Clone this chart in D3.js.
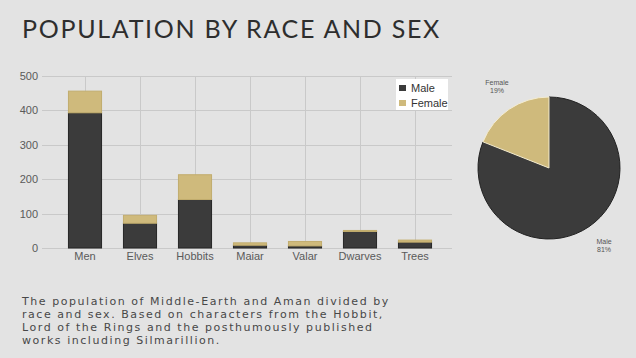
<!DOCTYPE html>
<html>
<head>
<meta charset="utf-8">
<script src="https://cdn.jsdelivr.net/npm/d3@7"></script>
<style>
  html, body { margin: 0; padding: 0; background: #e3e3e3; }
  svg { display: block; }
</style>
</head>
<body>
<div id="chart"></div>
<script>
// data
const races = ['Men', 'Elves', 'Hobbits', 'Maiar', 'Valar', 'Dwarves', 'Trees'];
const male = [393, 72, 141, 8, 6, 48, 17];
const female = [63, 23, 72, 7, 13, 3, 6];
const yTicks = [0, 100, 200, 300, 400, 500];
const pieLabels = ['Male', 'Female'];
const piePercent = [81, 19];

const W = 636, H = 358;
const colors = { Male: '#3b3b3b', Female: '#cfba7c' };

const svg = d3.select('#chart').append('svg')
    .attr('width', W)
    .attr('height', H);

svg.append('rect').attr('width', W).attr('height', H).attr('fill', '#e3e3e3');

// title
svg.append('text')
    .attr('x', 22).attr('y', 38)
    .attr('font-family', 'Lato, sans-serif')
    .attr('font-size', 25)
    .attr('letter-spacing', 1.7)
    .attr('fill', '#2e2e2e')
    .text('POPULATION BY RACE AND SEX');

// bar chart
let x = d3.scaleBand()
    .domain(races)
    .range([57.5, 442.5])
    .paddingInner(0.38)
    .paddingOuter(0.19);

let y = d3.scaleLinear()
    .domain([0, 500])
    .range([248, 76]);

let grid = svg.append('g').attr('stroke', '#c9c9c9').attr('stroke-width', 1);
grid.selectAll('line.h').data(yTicks).enter().append('line')
    .attr('x1', 42).attr('x2', 452)
    .attr('y1', d => Math.round(y(d)) + 0.5)
    .attr('y2', d => Math.round(y(d)) + 0.5);
grid.selectAll('line.v').data(races).enter().append('line')
    .attr('x1', d => Math.round(x(d) + x.bandwidth() / 2) + 0.5)
    .attr('x2', d => Math.round(x(d) + x.bandwidth() / 2) + 0.5)
    .attr('y1', 76).attr('y2', 248);

let yAxis = g => g
    .attr('transform', 'translate(42,0)')
    .call(d3.axisLeft(y).tickValues(yTicks).tickSize(0).tickPadding(4))
    .call(g => g.select('.domain').remove())
    .call(g => g.selectAll('text')
        .attr('font-family', 'Liberation Sans, Arial, sans-serif')
        .attr('font-size', 11)
        .attr('fill', '#5a5a5a'));
svg.append('g').call(yAxis);

let xAxis = g => g
    .attr('transform', 'translate(0,248)')
    .call(d3.axisBottom(x).tickSize(0).tickPadding(4))
    .call(g => g.select('.domain').remove())
    .call(g => g.selectAll('text')
        .attr('font-family', 'Liberation Sans, Arial, sans-serif')
        .attr('font-size', 11)
        .attr('fill', '#5a5a5a'));
svg.append('g').call(xAxis);

let stackData = races.map((r, i) => ({ name: r, Male: male[i], Female: female[i] }));
let series = d3.stack().keys(['Male', 'Female'])(stackData);

svg.append('g').selectAll('g').data(series).enter().append('g')
    .attr('fill', d => colors[d.key])
    .attr('stroke', d => d.key === 'Male' ? '#252525' : '#c2ad6e')
    .attr('stroke-width', 1)
    .selectAll('rect').data(d => d).enter().append('rect')
    .attr('x', d => x(d.data.name) + 0.5)
    .attr('y', d => y(d[1]))
    .attr('width', x.bandwidth() - 1)
    .attr('height', d => Math.max(0, y(d[0]) - y(d[1])));

// legend
let legend = svg.append('g').attr('transform', 'translate(396,79)');
legend.append('rect').attr('width', 52).attr('height', 31).attr('fill', '#ffffff');
legend.selectAll('g').data(['Male', 'Female']).enter().append('g')
    .attr('transform', (d, i) => `translate(3,${5 + i * 15})`)
    .each(function (d) {
        let g = d3.select(this);
        g.append('rect').attr('width', 7).attr('height', 6).attr('y', 1).attr('fill', colors[d]);
        g.append('text').attr('x', 12).attr('y', 8)
            .attr('font-family', 'Liberation Sans, Arial, sans-serif')
            .attr('font-size', 11)
            .attr('fill', '#333')
            .text(d);
    });

// pie
let pieData = pieLabels.map((l, i) => ({ label: l, value: piePercent[i] }));
let pie = d3.pie().sort(null).value(d => d.value);
let arc = d3.arc().innerRadius(0).outerRadius(71);
let pg = svg.append('g').attr('transform', 'translate(549,168)');
pg.selectAll('path').data(pie(pieData)).enter().append('path')
    .attr('d', arc)
    .attr('fill', d => colors[d.data.label])
    .attr('stroke', d => d.data.label === 'Male' ? '#222' : '#f4ecd0')
    .attr('stroke-width', 1);

let pieLabelPos = { Male: [604, 244], Female: [497, 85] };
svg.append('g').selectAll('text').data(pieData).enter().append('text')
    .attr('x', d => pieLabelPos[d.label][0])
    .attr('y', d => pieLabelPos[d.label][1])
    .attr('text-anchor', 'middle')
    .attr('font-family', 'Liberation Sans, Arial, sans-serif')
    .attr('font-size', 7)
    .attr('fill', '#555')
    .each(function (d) {
        let t = d3.select(this);
        t.append('tspan').attr('x', pieLabelPos[d.label][0]).text(d.label);
        t.append('tspan').attr('x', pieLabelPos[d.label][0]).attr('dy', 8).text(d.value + '%');
    });

// description
const desc = [
    'The population of Middle-Earth and Aman divided by',
    'race and sex. Based on characters from the Hobbit,',
    'Lord of the Rings and the posthumously published',
    'works including Silmarillion.'
];
svg.append('g').selectAll('text').data(desc).enter().append('text')
    .attr('x', 22)
    .attr('y', (d, i) => 305 + i * 13)
    .attr('font-family', 'DejaVu Sans, sans-serif')
    .attr('font-size', 11)
    .attr('letter-spacing', 1.55)
    .attr('fill', '#484848')
    .text(d => d);
</script>
</body>
</html>
